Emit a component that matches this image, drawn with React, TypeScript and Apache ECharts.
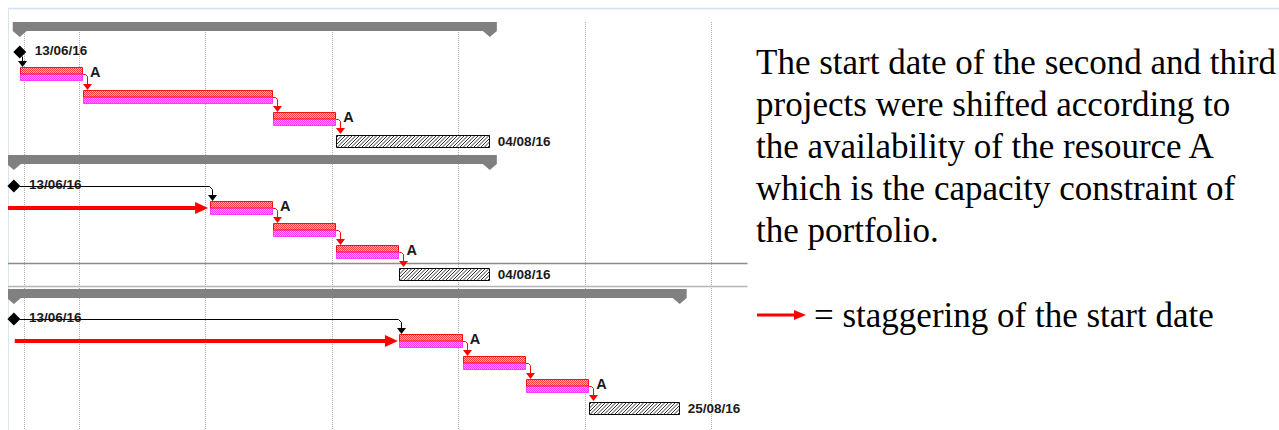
import React, { useEffect, useRef } from "react";
import * as echarts from "echarts";

// Time is counted in days from 13/06/16
const summaryStart = [0, -0.65, -0.65];
const summaryEnd = [52, 52, 73];
const milestoneDay = [0, -0.65, -0.65];
const milestoneLabels = ["13/06/16", "13/06/16", "13/06/16"];
const taskStarts = [[0, 7, 28], [21, 28, 35], [42, 49, 56]];
const taskEnds = [[7, 28, 35], [28, 35, 42], [49, 56, 63]];
const taskResources = [["A", "", "A"], ["A", "", "A"], ["A", "", "A"]];
const bufferStart = [35, 42, 63];
const bufferEnd = [52, 52, 73];
const finishLabels = ["04/08/16", "04/08/16", "25/08/16"];
const staggerFrom = [null, -1.3, -0.55];
const staggerTo = [null, 21, 42];
const gridlineDays = [0.44, 6.5, 20.5, 34.5, 48.5, 62.5, 76.5];
const selectedRow = 11;
const rowsPerProject = 6;
const noteLines = [
  "The start date of the second and third",
  "projects were shifted according to",
  "the availability of the resource A",
  "which is the capacity constraint of",
  "the portfolio.",
];
const legendText = "= staggering of the start date";

const LABEL_FONT = "bold 13.5px 'Liberation Sans', Arial, sans-serif";
const A_FONT = "bold 14.5px 'Liberation Sans', Arial, sans-serif";

type Link = { fromDay: number; fromRow: number; toDay: number; toRow: number; color: string; fromMilestone: boolean };

function makeChecker(c1: string, c2: string): any {
  try {
    const cv = document.createElement("canvas");
    cv.width = 2;
    cv.height = 2;
    const ctx = cv.getContext("2d");
    if (!ctx) return null;
    ctx.fillStyle = c2;
    ctx.fillRect(0, 0, 2, 2);
    ctx.fillStyle = c1;
    ctx.fillRect(0, 0, 1, 1);
    ctx.fillRect(1, 1, 1, 1);
    return { image: cv, repeat: "repeat", imageWidth: 2, imageHeight: 2 };
  } catch (e) {
    return null;
  }
}

export default function App() {
  const ref = useRef<HTMLDivElement>(null);
  useEffect(() => {
    if (!ref.current) return;
    const chart = echarts.init(ref.current, null, { renderer: "svg" });

    const topFill = makeChecker("#ff3a3a", "#ffb4b4") || "#ff7878";
    const bottomFill = makeChecker("#ff30ff", "#ffb0ff") || "#ff70ff";

    const summaries: number[][] = [];
    const milestones: number[][] = [];
    const tasks: number[][] = [];
    const taskLabels: string[] = [];
    const buffers: number[][] = [];
    const staggers: number[][] = [];
    const links: Link[] = [];

    for (let p = 0; p < 3; p++) {
      const base = p * rowsPerProject;
      summaries.push([summaryStart[p], summaryEnd[p], base]);
      milestones.push([milestoneDay[p], base + 1]);
      for (let t = 0; t < 3; t++) {
        tasks.push([taskStarts[p][t], taskEnds[p][t], base + 2 + t]);
        taskLabels.push(taskResources[p][t]);
      }
      buffers.push([bufferStart[p], bufferEnd[p], base + 5]);
      if (staggerFrom[p] !== null) staggers.push([staggerFrom[p] as number, staggerTo[p] as number, base + 2]);
      links.push({ fromDay: milestoneDay[p], fromRow: base + 1, toDay: taskStarts[p][0], toRow: base + 2, color: "#000000", fromMilestone: true });
      for (let t = 0; t < 2; t++) {
        links.push({ fromDay: taskEnds[p][t], fromRow: base + 2 + t, toDay: taskStarts[p][t + 1], toRow: base + 3 + t, color: "#ff0000", fromMilestone: false });
      }
      links.push({ fromDay: taskEnds[p][2], fromRow: base + 4, toDay: bufferStart[p], toRow: base + 5, color: "#ff0000", fromMilestone: false });
    }

    const pitch = 22.46;
    const option: any = {
      animation: false,
      grid: { left: 8, width: 739.5, top: 30.16 - pitch, height: 19 * pitch },
      xAxis: { type: "value", min: -1.3, max: 80.5, show: false },
      yAxis: { type: "value", min: -1, max: 18, inverse: true, show: false },
      series: [
        {
          type: "custom",
          silent: true,
          clip: true,
          data: gridlineDays.map((d) => [d, 0]),
          encode: { x: 0, y: 1 },
          renderItem: (params: any, api: any) => {
            const d = api.value(0);
            const a = api.coord([d, -0.36]);
            const b = api.coord([d, 18]);
            const x = Math.round(a[0]) + 0.5;
            return { type: "line", shape: { x1: x, y1: a[1], x2: x, y2: b[1] }, style: { stroke: "#a8a8a8", lineWidth: 1, lineDash: [1, 1] } };
          },
        },
        {
          type: "custom",
          silent: true,
          data: [[-1.3, selectedRow - 0.5], [-1.3, selectedRow + 0.5]],
          encode: { x: 0, y: 1 },
          renderItem: (params: any, api: any) => {
            const a = api.coord([-1.3, api.value(1)]);
            const b = api.coord([80.5, api.value(1)]);
            const y = Math.round(a[1]) + 0.5;
            return { type: "line", shape: { x1: a[0], y1: y, x2: b[0], y2: y }, style: { stroke: params.dataIndex === 0 ? "#8c8c8c" : "#b4b4b4", lineWidth: 1.5 } };
          },
        },
        {
          type: "custom",
          silent: true,
          clip: true,
          data: summaries,
          encode: { x: [0, 1], y: 2 },
          renderItem: (params: any, api: any) => {
            const s = api.coord([api.value(0), api.value(2)]);
            const e = api.coord([api.value(1), api.value(2)]);
            const cy = Math.round(s[1]);
            const fill = "#808080";
            return {
              type: "group",
              children: [
                { type: "rect", shape: { x: s[0] - 7, y: cy - 8, width: e[0] - s[0] + 14, height: 9 }, style: { fill } },
                { type: "polygon", shape: { points: [[s[0] - 7, cy + 1], [s[0] + 7, cy + 1], [s[0], cy + 7]] }, style: { fill } },
                { type: "polygon", shape: { points: [[e[0] - 7, cy + 1], [e[0] + 7, cy + 1], [e[0], cy + 7]] }, style: { fill } },
              ],
            };
          },
        },
        {
          type: "custom",
          silent: true,
          data: links.map((l) => [l.fromDay, l.fromRow, l.toDay, l.toRow]),
          encode: { x: [0, 2], y: [1, 3] },
          renderItem: (params: any, api: any) => {
            const l = links[params.dataIndex];
            const p0 = api.coord([l.fromDay, l.fromRow]);
            const p1 = api.coord([l.toDay, l.toRow]);
            const tipY = Math.round(p1[1]) - 7;
            let pts: number[][];
            let vx: number;
            if (l.fromMilestone) {
              vx = Math.round(p1[0]) + 2.5;
              const sx = p0[0] + 6;
              const y = Math.round(p0[1]) + 0.5;
              if (vx <= sx + 1) pts = [[vx, y + 4], [vx, tipY - 5]];
              else pts = [[sx, y], [vx - 3, y], [vx, y + 3], [vx, tipY - 5]];
            } else {
              vx = Math.round(p1[0]) + 4.5;
              const y = Math.round(p0[1]) + 0.5;
              pts = [[p0[0], y], [vx - 2, y], [vx, y + 2], [vx, tipY - 5]];
            }
            return {
              type: "group",
              children: [
                { type: "polyline", shape: { points: pts }, style: { stroke: l.color, lineWidth: 1, fill: null } },
                { type: "polygon", shape: { points: [[vx - 4.5, tipY - 6], [vx + 4.5, tipY - 6], [vx, tipY]] }, style: { fill: l.color } },
              ],
            };
          },
        },
        {
          type: "custom",
          silent: true,
          data: tasks,
          encode: { x: [0, 1], y: 2 },
          renderItem: (params: any, api: any) => {
            const s = api.coord([api.value(0), api.value(2)]);
            const e = api.coord([api.value(1), api.value(2)]);
            const x0 = Math.round(s[0]) + 0.5;
            const x1 = Math.round(e[0]) - 0.5;
            const cy = Math.round(s[1]);
            const top = cy - 7 + 0.5;
            const label = taskLabels[params.dataIndex];
            const children: any[] = [
              { type: "rect", shape: { x: x0, y: top + 6, width: x1 - x0, height: 7 }, style: { fill: bottomFill, stroke: "#ff3cff", lineWidth: 1 } },
              { type: "rect", shape: { x: x0, y: top, width: x1 - x0, height: 6.5 }, style: { fill: topFill, stroke: "#ff1010", lineWidth: 1 } },
            ];
            if (label) {
              children.push({ type: "text", style: { x: e[0] + 7, y: cy - 2, text: label, font: A_FONT, fill: "#1a1a1a", verticalAlign: "middle", align: "left" } });
            }
            return { type: "group", children };
          },
        },
        {
          type: "custom",
          silent: true,
          data: buffers,
          encode: { x: [0, 1], y: 2 },
          renderItem: (params: any, api: any) => {
            const s = api.coord([api.value(0), api.value(2)]);
            const e = api.coord([api.value(1), api.value(2)]);
            const x0 = Math.round(s[0]) + 0.5;
            const x1 = Math.round(e[0]) - 0.5;
            const cy = Math.round(s[1]);
            const top = cy - 6 + 0.5;
            const h = 12;
            const w = x1 - x0;
            const children: any[] = [
              { type: "rect", shape: { x: x0, y: top, width: w, height: h }, style: { fill: "#ffffff", stroke: "#000000", lineWidth: 1 } },
            ];
            for (let t = -h + 2; t < w; t += 3.5) {
              const sa = Math.max(0, -t);
              const sb = Math.min(h, w - t);
              if (sb <= sa) continue;
              children.push({
                type: "line",
                shape: { x1: x0 + t + sa, y1: top + h - sa, x2: x0 + t + sb, y2: top + h - sb },
                style: { stroke: "#333333", lineWidth: 1 },
              });
            }
            children.push({ type: "text", style: { x: e[0] + 8, y: cy + 0.5, text: finishLabels[params.dataIndex], font: LABEL_FONT, fill: "#1a1a1a", verticalAlign: "middle", align: "left" } });
            return { type: "group", children };
          },
        },
        {
          type: "custom",
          silent: true,
          data: milestones,
          encode: { x: 0, y: 1 },
          renderItem: (params: any, api: any) => {
            const p = api.coord([api.value(0), api.value(1)]);
            const x = p[0];
            const cy = Math.round(p[1]);
            return {
              type: "group",
              children: [
                { type: "polygon", shape: { points: [[x, cy - 6.5], [x + 6.5, cy], [x, cy + 6.5], [x - 6.5, cy]] }, style: { fill: "#000000" } },
                { type: "text", style: { x: x + 15, y: cy - 2, text: milestoneLabels[params.dataIndex], font: LABEL_FONT, fill: "#1a1a1a", verticalAlign: "middle", align: "left" } },
              ],
            };
          },
        },
        {
          type: "custom",
          silent: true,
          clip: true,
          data: staggers,
          encode: { x: [0, 1], y: 2 },
          renderItem: (params: any, api: any) => {
            const s = api.coord([api.value(0), api.value(2)]);
            const e = api.coord([api.value(1), api.value(2)]);
            const y = Math.round(s[1]);
            const tip = e[0] - 1.5;
            return {
              type: "group",
              children: [
                { type: "rect", shape: { x: s[0], y: y - 2, width: tip - 12 - s[0], height: 4 }, style: { fill: "#ff0000" } },
                { type: "polygon", shape: { points: [[tip - 13, y - 6], [tip, y], [tip - 13, y + 6]] }, style: { fill: "#ff0000" } },
              ],
            };
          },
        },
      ],
      graphic: [
        { type: "line", shape: { x1: 8, y1: 8.5, x2: 1279, y2: 8.5 }, style: { stroke: "#cfe3f5", lineWidth: 1.5 }, silent: true },
        { type: "line", shape: { x1: 8.5, y1: 8, x2: 8.5, y2: 430 }, style: { stroke: "#d8e6f2", lineWidth: 1 }, silent: true },
        {
          type: "text",
          left: 756,
          top: 41,
          silent: true,
          style: {
            text: noteLines.join("\n"),
            font: "35px 'Liberation Serif', 'Times New Roman', serif",
            lineHeight: 42,
            fill: "#000000",
          },
        },
        { type: "rect", shape: { x: 757, y: 313.5, width: 38, height: 3 }, style: { fill: "#ff0000" }, silent: true },
        { type: "polygon", shape: { points: [[794, 310], [806, 315], [794, 320]] }, style: { fill: "#ff0000" }, silent: true },
        {
          type: "text",
          left: 814,
          top: 294,
          silent: true,
          style: {
            text: legendText,
            font: "35px 'Liberation Serif', 'Times New Roman', serif",
            lineHeight: 42,
            fill: "#000000",
          },
        },
      ],
    };
    chart.setOption(option);
    return () => chart.dispose();
  }, []);
  return <div ref={ref} style={{ position: "absolute", left: 0, top: 0, width: 1279, height: 430 }} />;
}
